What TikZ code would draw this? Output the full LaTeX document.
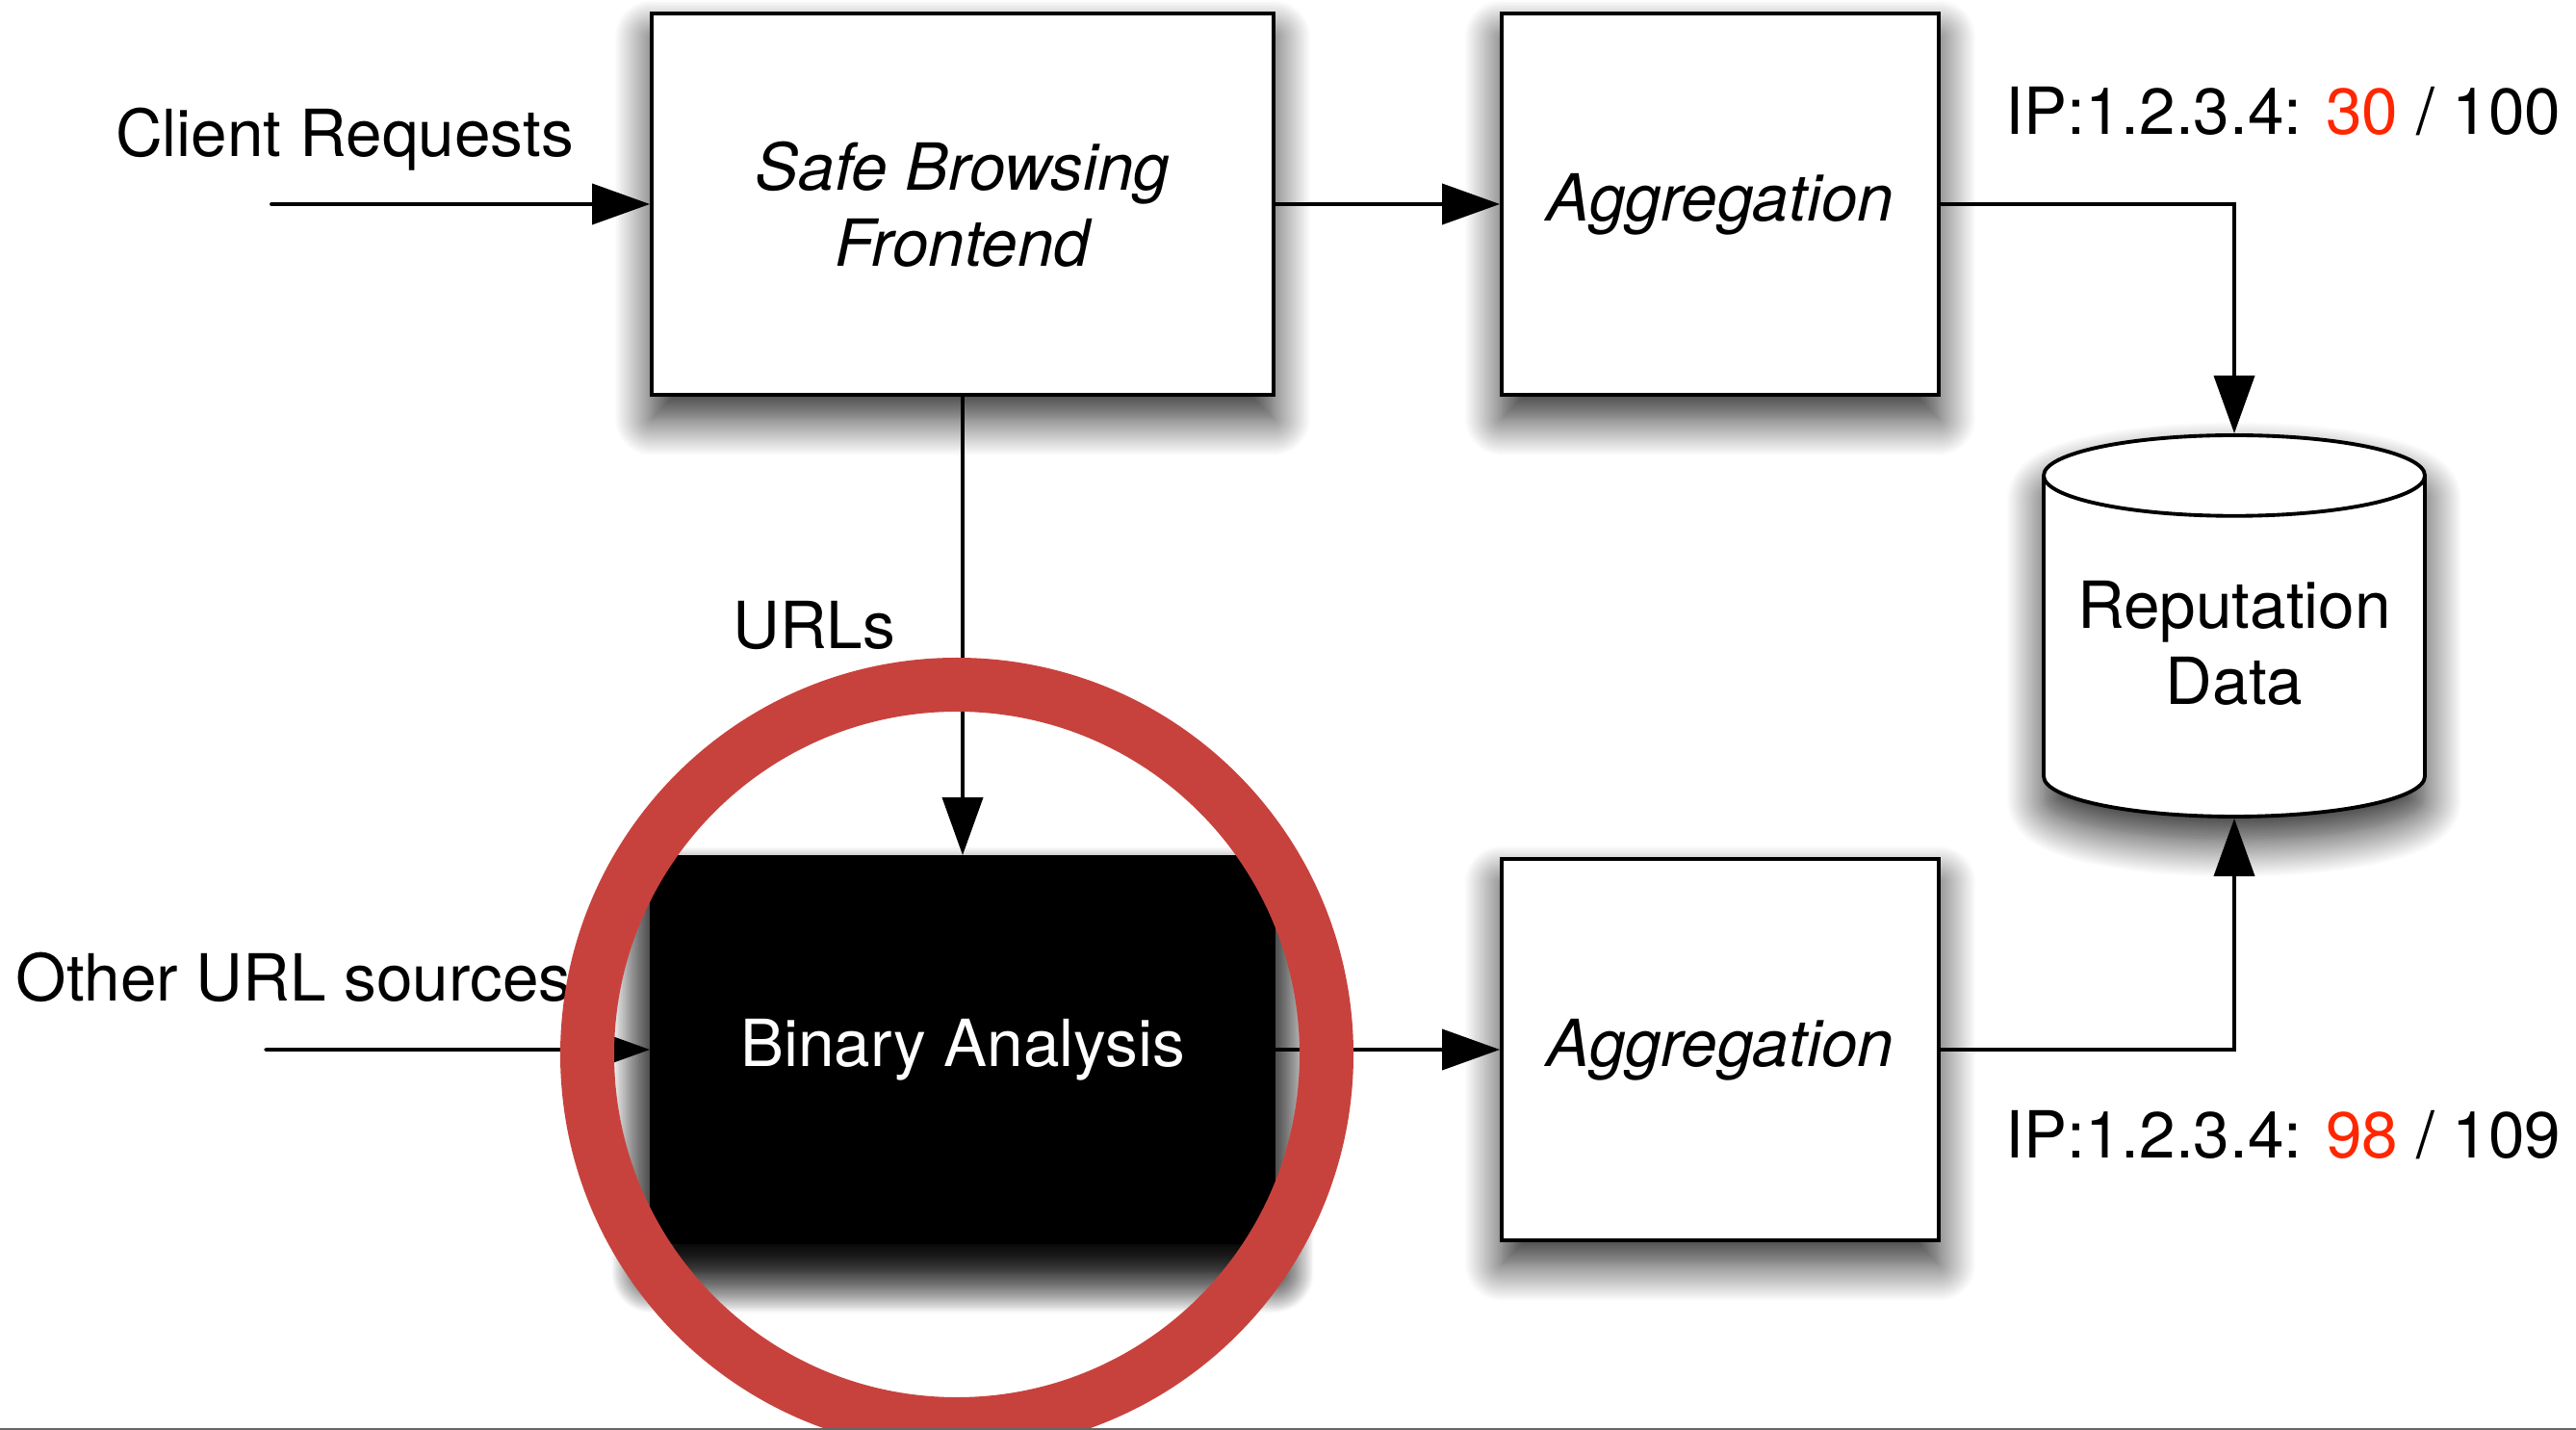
\documentclass[tikz,border=0pt]{standalone}
\usepackage{fontspec}
\setmainfont{TeX Gyre Heros}
\usetikzlibrary{shapes.geometric, arrows.meta, positioning, shadows.blur}
\definecolor{ringred}{RGB}{200,66,61}
\definecolor{hitred}{RGB}{255,38,0}

\begin{document}
\begin{tikzpicture}[node distance=7.87cm, auto,
    font=\fontsize{19.2}{22.5}\selectfont,
    softshadow/.style={blur shadow={shadow xshift=0pt, shadow yshift=-7pt, shadow blur radius=11pt, shadow blur steps=25, shadow opacity=85}},
    block/.style={rectangle, draw, line width=1.1pt, fill=white, minimum width=6.46cm, minimum height=3.96cm, align=center, font=\fontsize{19.2}{22.5}\selectfont\itshape, softshadow},
    aggblock/.style={block, minimum width=4.54cm},
    store/.style={cylinder, shape border rotate=90, aspect=0.24, draw, line width=1.1pt, fill=white, minimum width=3.96cm, minimum height=3.96cm, align=center, text depth=0.24cm, softshadow},
    arrow/.style={line width=1.1pt, line cap=round, ->, >={Triangle[length=0.6cm,width=0.42cm]}}]
    \useasboundingbox (0,0) rectangle (26.76,-14.85);
    \clip (0,0) rectangle (26.76,-14.85);

    \node [block] (frontend) at (10,-2.12) {Safe Browsing\\Frontend};
    \node [aggblock, right of=frontend] (aggtop) {Aggregation};
    \node [block, below of=frontend, node distance=8.78cm, minimum height=4cm, fill=black, text=white, font=\fontsize{19.2}{22.5}\selectfont, blur shadow={shadow xshift=0pt, shadow yshift=-9pt, shadow blur radius=12pt, shadow blur steps=25, shadow opacity=95}] (binary) {Binary Analysis};
    \node [aggblock, right of=binary] (aggbot) {Aggregation};
    \node [store] (repdata) at (23.21,-6.79) {Reputation\\Data};

    % inputs on the left
    \node (reqlabel) at (3.58,-1.45) {Client Requests};
    \coordinate (reqin) at (2.82,-2.12);
    \node (otherlabel) at (3.05,-10.15) {Other URL sources};
    \coordinate (otherin) at (2.76,-10.9);

    % counters
    \node (iptop) at (23.72,-1.16) {IP:1.2.3.4: \textcolor{hitred}{30} / 100};
    \node (ipbot) at (23.72,-11.79) {IP:1.2.3.4: \textcolor{hitred}{98} / 109};

    \draw [arrow] (reqin) -- (frontend.west);
    \draw [arrow] (otherin) -- (binary.west);
    \draw [arrow] (frontend.east) -- (aggtop.west);
    \draw [arrow] (binary.east) -- (aggbot.west);
    \draw [arrow] (frontend.south) -- node [left=16pt] (urls) {URLs} (binary.north);
    \draw [arrow] (aggtop.east) -| (repdata.top);
    \draw [arrow] (aggbot.east) -| (repdata.bottom);

    % highlight
    \draw [ringred, line width=0.56cm] (9.94,-10.95) circle (3.84cm);
    \fill [black!60] (0,-14.825) rectangle (26.76,-14.85);
\end{tikzpicture}
\end{document}
